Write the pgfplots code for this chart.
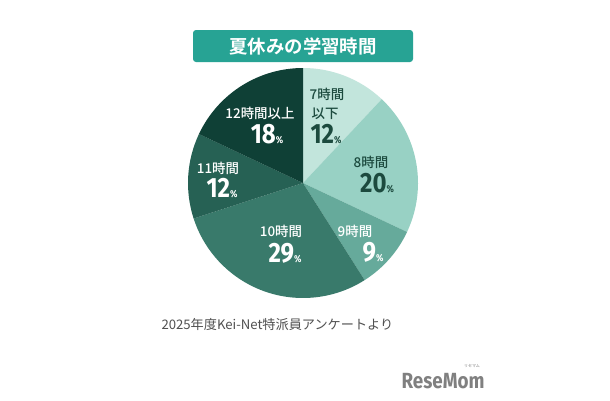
\documentclass[border=0pt]{standalone}
\usepackage{pgfplots}
\pgfplotsset{compat=1.18}
\usepackage{pgfplotstable}
\usepackage{fontspec}
\setmainfont{Noto Sans CJK JP}
\newfontfamily\jpbold{Noto Sans CJK JP Bold}
\newfontfamily\jpmed{Noto Sans CJK JP Medium}
\newfontfamily\numfont{Fira Sans}[FakeStretch=0.86]
\definecolor{c7}{HTML}{C2E5DC}
\definecolor{c8}{HTML}{98D1C4}
\definecolor{c9}{HTML}{66AA9B}
\definecolor{c10}{HTML}{397A6B}
\definecolor{c11}{HTML}{266154}
\definecolor{c12}{HTML}{0F4036}
\definecolor{darktxt}{HTML}{1C4A3E}
\definecolor{banner}{HTML}{27A394}
\definecolor{srcgray}{HTML}{505050}
\definecolor{logogray}{HTML}{808080}
\pgfplotstableread{
label value col
7以下 12 c7
8 20 c8
9 9 c9
10 29 c10
11 12 c11
12以上 18 c12
}\piedata
\newcommand{\lab}[1]{{\jpmed\fontsize{13.5}{14}\selectfont #1}}
\newcommand{\num}[1]{{\numfont\bfseries\fontsize{28}{28}\selectfont #1\fontsize{10}{10}\selectfont\%}}
\begin{document}
\begin{tikzpicture}
\begin{axis}[width=610bp,height=400bp,scale only axis,
  xmin=0,xmax=610,ymin=0,ymax=400,y dir=reverse,
  hide axis,clip=false]
\path[fill=white] (axis cs:0,0) rectangle (axis cs:610,400);
% banner
\fill[banner,rounded corners=3bp] (axis cs:193,30) rectangle (axis cs:413,62);
\node[white] at (axis cs:303,46) {\jpbold\fontsize{18.5}{19}\selectfont 夏休みの学習時間};
% pie
\def\cum{0}
\pgfplotsforeachungrouped \i in {0,...,5}{%
  \pgfplotstablegetelem{\i}{value}\of\piedata
  \let\val\pgfplotsretval
  \pgfplotstablegetelem{\i}{col}\of\piedata
  \let\colname\pgfplotsretval
  \pgfmathsetmacro\sa{90-3.6*\cum}%
  \pgfmathsetmacro\ea{\sa-3.6*\val}%
  \edef\temp{\noexpand\fill[\colname] (axis cs:303,183) -- ++(\sa:115bp) arc[start angle=\sa, end angle=\ea, radius=115bp] -- cycle;}%
  \temp
  \pgfmathsetmacro\cum{\cum+\val}%
}
% labels
\node[darktxt] at (axis cs:327,94) {\lab{7時間}};
\node[darktxt] at (axis cs:325,114) {\lab{以下}};
\node[darktxt] at (axis cs:326,134) {\num{12}};
\node[darktxt] at (axis cs:371,162) {\lab{8時間}};
\node[darktxt] at (axis cs:377,183) {\num{20}};
\node[white] at (axis cs:355,231) {\lab{9時間}};
\node[white] at (axis cs:373,252) {\num{9}};
\node[white] at (axis cs:281,231) {\lab{10時間}};
\node[white] at (axis cs:285,253) {\num{29}};
\node[white] at (axis cs:218,168) {\lab{11時間}};
\node[white] at (axis cs:222,188) {\num{12}};
\node[white] at (axis cs:260,113) {\lab{12時間以上}};
\node[white] at (axis cs:267,134) {\num{18}};
% source
\node[srcgray,anchor=west] at (axis cs:158,325) {\fontsize{13.2}{14}\selectfont 2025年度Kei-Net特派員アンケートより};
% logo
\node[logogray] at (axis cs:443,381) {\numfont\bfseries\fontsize{22}{22}\selectfont ReseMom};
\node[logogray] at (axis cs:472,366) {\fontsize{4}{4}\selectfont リセマム};
\end{axis}
\end{tikzpicture}
\end{document}
